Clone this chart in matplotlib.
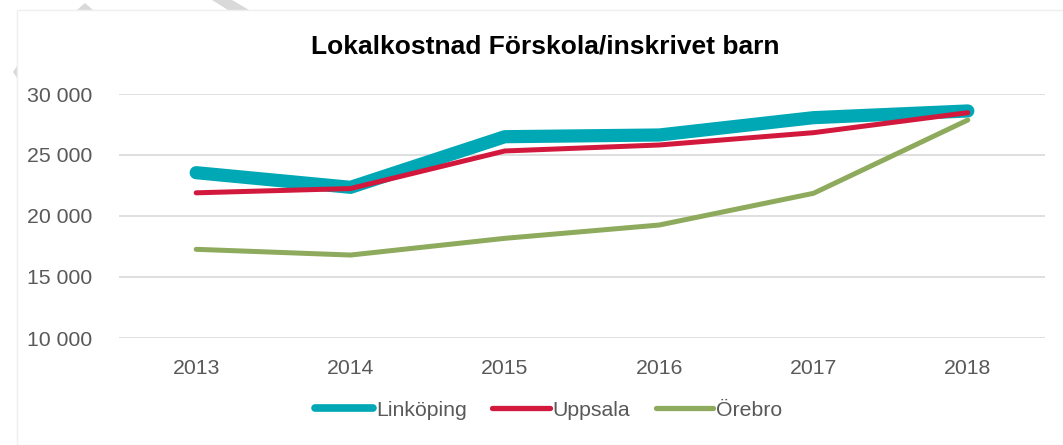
import numpy as np
import matplotlib.pyplot as plt
from matplotlib.patches import Polygon, Rectangle

plt.rcParams['font.family'] = ['Liberation Sans', 'DejaVu Sans']

# data
years = ["2013", "2014", "2015", "2016", "2017", "2018"]
linkoping = [23550, 22350, 26500, 26640, 28060, 28610]
uppsala = [21900, 22250, 25330, 25820, 26830, 28470]
orebro = [17270, 16800, 18170, 19260, 21860, 27870]
yticks = [10000, 15000, 20000, 25000, 30000]
ytick_labels = ["10 000", "15 000", "20 000", "25 000", "30 000"]

W, H = 1063, 445
fig = plt.figure(figsize=(W / 100, H / 100), dpi=100)

# faint watermark fragments and chart frame behind the plot
def px(pts):
    return [(x / W, 1 - y / H) for x, y in pts]

for pts in ([(77, 10), (85, 3), (93, 10)],
            [(212, 0), (232, 0), (249, 10), (228, 10)],
            [(17, 66), (13, 72), (17, 78)]):
    fig.patches.append(Polygon(px(pts), closed=True, transform=fig.transFigure,
                               facecolor="#D9D9D9", edgecolor="none", zorder=0))
fig.patches.append(Rectangle((17 / W, 0), 1, 1 - 10 / H, transform=fig.transFigure,
                             facecolor="white", edgecolor="#EFEFEF", lw=1, zorder=1))

ax = fig.add_axes([119 / W, (H - 338) / H, (1045 - 119) / W, (338 - 94) / H])
ax.set_zorder(2)
ax.patch.set_alpha(0)

x = np.arange(len(years))
ax.plot(x, linkoping, color="#00A8B5", lw=9.5, solid_capstyle="round",
        solid_joinstyle="round", label="Linköping", zorder=3)
ax.plot(x, uppsala, color="#D3183D", lw=3.6, solid_capstyle="round",
        solid_joinstyle="round", label="Uppsala", zorder=4)
ax.plot(x, orebro, color="#8EAA5C", lw=3.6, solid_capstyle="round",
        solid_joinstyle="round", label="Örebro", zorder=4)

ax.set_xlim(-0.5, len(years) - 0.5)
ax.set_ylim(10000, 30000)
ax.set_xticks(x)
ax.set_xticklabels(years)
ax.set_yticks(yticks)
ax.set_yticklabels(ytick_labels)
ax.tick_params(length=0, labelsize=15.3, labelcolor="#595959")
ax.tick_params(axis="y", pad=19)
ax.tick_params(axis="x", pad=15)
ax.grid(axis="y", color="#D9D9D9", lw=1.2)
ax.set_axisbelow(True)
for s in ax.spines.values():
    s.set_visible(False)

fig.text(545 / W, 1 - 47 / H, "Lokalkostnad Förskola/inskrivet barn",
         ha="center", va="center", fontsize=19, fontweight="bold", color="black")

leg = ax.legend(loc="center", bbox_to_anchor=(549 / W, 1 - 410 / H),
                bbox_transform=fig.transFigure, ncol=3, frameon=False,
                fontsize=15.3, handlelength=2.7, handletextpad=0.15,
                columnspacing=1.2, labelcolor="#595959")
for line, w in zip(leg.get_lines(), [5.5, 3.8, 3.8]):
    line.set_linewidth(w)
    line.set_solid_capstyle("round")

fig.savefig("out.png", dpi=100)
